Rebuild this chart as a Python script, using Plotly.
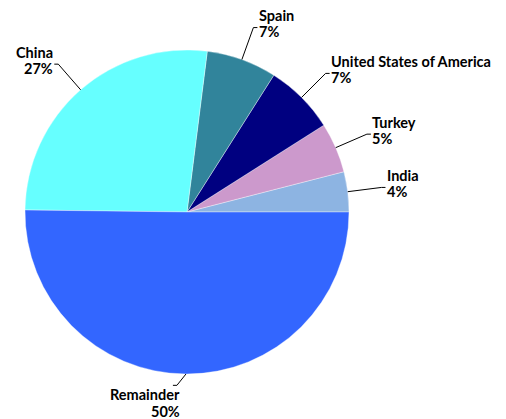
import math
import plotly.graph_objects as go

labels = ["India", "Turkey", "United States of America", "Spain", "China", "Remainder"]
shares = [4.0, 5.0, 7.0, 7.0, 26.8, 50.2]
colors = ["#8DB4E2", "#CC99CC", "#000080", "#31849B", "#66FFFF", "#3366FF"]

# window size, and the 8px body margin of the html page
W, H, OFF = 506, 419, 8
CX, CY, R = 187, 212, 162

# leader bend radius (as a multiple of R) and a sideways nudge, per slice
leader_k = [1.21, 1.21, 1.21, 1.21, 1.21, 1.07]
leader_dx = [0, 0, 0, 0, 0, -9]

FW, FH = W - OFF, H - OFF


def to_paper(x, y):
    return (x - OFF) / FW, 1 - (y - OFF) / FH


total = sum(shares)

fig = go.Figure(
    go.Pie(
        labels=labels,
        values=shares,
        sort=False,
        direction="counterclockwise",
        # plotly ends the first slice at the rotation angle, so start India at 3 o'clock
        rotation=90 - 360 * shares[0] / total,
        marker=dict(colors=colors, line=dict(color="rgba(255,255,255,0.6)", width=0.6)),
        textinfo="none",
        hoverinfo="label+percent",
        domain=dict(x=[to_paper(CX - R, 0)[0], to_paper(CX + R, 0)[0]],
                    y=[to_paper(0, CY + R)[1], to_paper(0, CY - R)[1]]),
    )
)

cum = 0
shapes, annos = [], []
for lab, v, k, dx in zip(labels, shares, leader_k, leader_dx):
    mid = (cum + v / 2) / total * 2 * math.pi
    cum += v
    c, s = math.cos(mid), math.sin(mid)
    x0, y0 = CX + R * c, CY - R * s
    x1, y1 = CX + R * k * c + dx, CY - R * k * s
    side = 1 if c >= 0 else -1
    x2 = x1 + 4 * side
    pts = [to_paper(x0, y0), to_paper(x1, y1), to_paper(x2, y1)]
    path = "M {} {} L {} {} L {} {}".format(*[p for xy in pts for p in xy])
    shapes.append(dict(type="path", xref="paper", yref="paper", path=path,
                       line=dict(color="black", width=1)))
    pct = f"{round(v / total * 100)}%"
    if s < -0.9:
        tx, ys, xa = x1 + 5, [y1 + 9, y1 + 26], "right"
    else:
        tx, ys, xa = x2 - 0.5 * side, [y1 - 12, y1 + 4], "left" if side > 0 else "right"
    for line, ty in zip([lab, pct], ys):
        ax, ay = to_paper(tx, ty)
        annos.append(dict(x=ax, y=ay, xref="paper", yref="paper", text=line, showarrow=False,
                          xanchor=xa, yanchor="middle"))

fig.update_layout(
    width=FW,
    height=FH,
    margin=dict(l=0, r=0, t=0, b=0),
    showlegend=False,
    paper_bgcolor="white",
    font=dict(family="Lato", size=14.5, color="black", weight="bold"),
    shapes=shapes,
    annotations=annos,
)
fig.write_html("out.html")
